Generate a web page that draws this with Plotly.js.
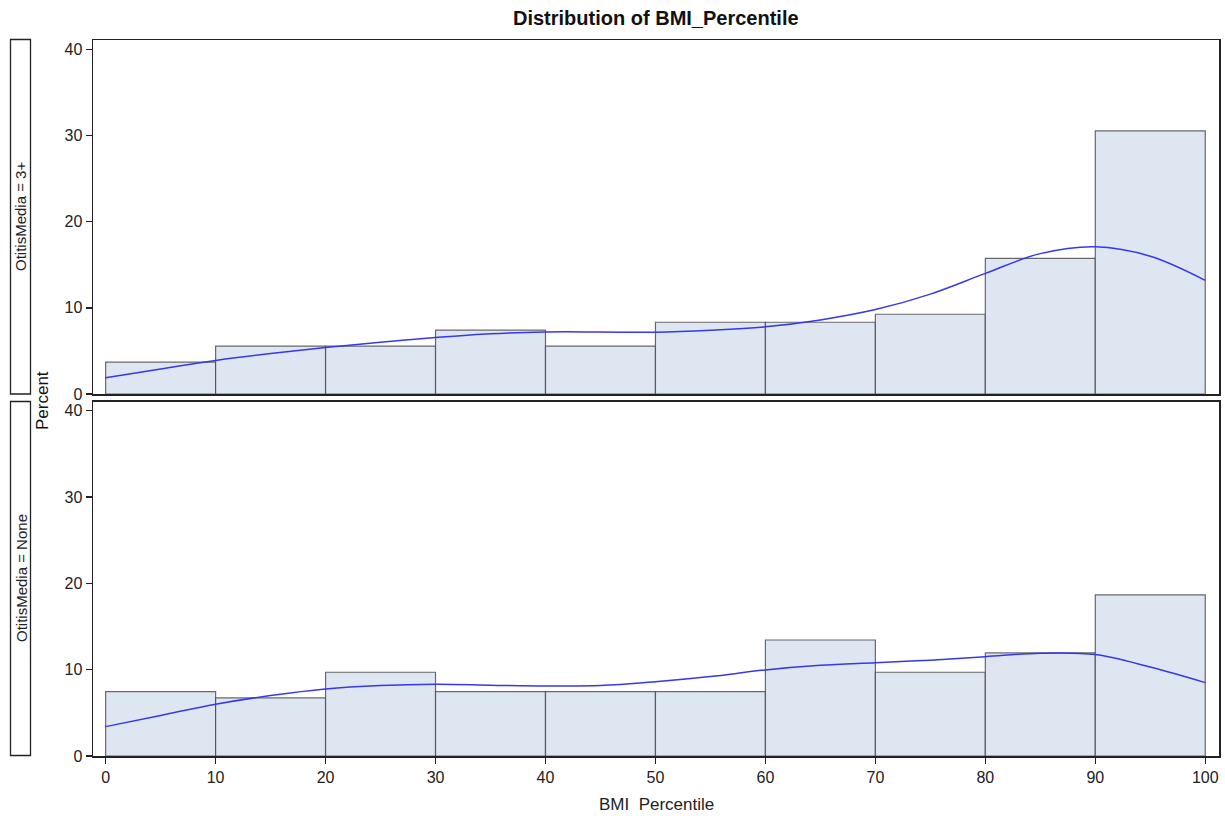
<!DOCTYPE html>
<html>
<head>
<meta charset="utf-8">
<script src="https://cdn.plot.ly/plotly-3.0.1.min.js"></script>
<style>html,body{margin:0;padding:0;background:#fff;}#chart{width:1225px;height:816px;}</style>
</head>
<body>
<div id="chart"></div>
<script>
// Histogram bins (BMI Percentile), 10-unit wide
var binMids = [5, 15, 25, 35, 45, 55, 65, 75, 85, 95];
// Percent per bin, OtitisMedia = 3+
var pctThreePlus = [3.70, 5.56, 5.56, 7.41, 5.56, 8.33, 8.33, 9.26, 15.74, 30.56];
// Percent per bin, OtitisMedia = None
var pctNone = [7.46, 6.72, 9.70, 7.46, 7.46, 7.46, 13.43, 9.70, 11.94, 18.66];
// Kernel density curves
var kdeX = [0, 5, 10, 15, 20, 25, 30, 35, 40, 45, 50, 55, 60, 65, 70, 75, 80, 85, 90, 95, 100];
var kdeThreePlus = [1.9, 2.9, 3.9, 4.7, 5.4, 6.0, 6.55, 7.0, 7.2, 7.2, 7.17, 7.4, 7.8, 8.6, 9.8, 11.6, 14.0, 16.3, 17.1, 16.0, 13.2];
var kdeNone = [3.4, 4.7, 6.0, 7.0, 7.76, 8.15, 8.3, 8.2, 8.1, 8.15, 8.6, 9.2, 9.97, 10.5, 10.8, 11.1, 11.5, 11.9, 11.75, 10.3, 8.5];
var xTicks = [0, 10, 20, 30, 40, 50, 60, 70, 80, 90, 100];
var yTicks = [0, 10, 20, 30, 40];
var rowLabels = ["OtitisMedia = 3+", "OtitisMedia = None"];

var W = 1225, H = 816;
function px(x){ return x / W; }
function py(y){ return 1 - y / H; }

var barFill = "rgb(222,230,242)";
var barLine = "rgba(70,70,70,0.8)";
var curveCol = "rgb(55,55,235)";
var FONT = "Liberation Sans, Arial, sans-serif";

var traces = [
  {type:"bar", x:binMids, y:pctThreePlus, width:10, xaxis:"x", yaxis:"y",
   marker:{color:barFill, line:{color:barLine, width:1.2}}, hoverinfo:"x+y", showlegend:false},
  {type:"scatter", mode:"lines", x:kdeX, y:kdeThreePlus, xaxis:"x", yaxis:"y",
   line:{color:curveCol, width:1.5, shape:"spline", smoothing:1}, showlegend:false},
  {type:"bar", x:binMids, y:pctNone, width:10, xaxis:"x2", yaxis:"y2",
   marker:{color:barFill, line:{color:barLine, width:1.2}}, hoverinfo:"x+y", showlegend:false},
  {type:"scatter", mode:"lines", x:kdeX, y:kdeNone, xaxis:"x2", yaxis:"y2",
   line:{color:curveCol, width:1.5, shape:"spline", smoothing:1}, showlegend:false}
];

var tickFont = {family:FONT, size:16, color:"#222"};
var frameCol = "#222";
var xDom = [px(93), px(1219)];
var xRange = [-1.15, 101.25];

var layout = {
  width: W, height: H,
  margin:{l:0, r:0, t:0, b:0},
  paper_bgcolor:"#fff", plot_bgcolor:"#fff",
  bargap:0,
  showlegend:false,
  xaxis:{domain:xDom, anchor:"y", range:xRange, showticklabels:false, ticks:"",
         showline:true, mirror:true, linecolor:frameCol, linewidth:1.5,
         showgrid:false, zeroline:false},
  yaxis:{domain:[py(394), py(40)], anchor:"x", range:[0, 41.1], tickvals:yTicks,
         ticks:"outside", ticklen:6, tickwidth:1.3, tickcolor:frameCol, tickfont:tickFont,
         showline:true, mirror:true, linecolor:frameCol, linewidth:1.5,
         showgrid:false, zeroline:false},
  xaxis2:{domain:xDom, anchor:"y2", range:xRange, tickvals:xTicks,
          ticks:"outside", ticklen:6, tickwidth:1.3, tickcolor:frameCol, tickfont:tickFont,
          showline:true, mirror:true, linecolor:frameCol, linewidth:1.5,
          showgrid:false, zeroline:false},
  yaxis2:{domain:[py(756), py(401.5)], anchor:"x2", range:[0, 41.05], tickvals:yTicks,
          ticks:"outside", ticklen:6, tickwidth:1.3, tickcolor:frameCol, tickfont:tickFont,
          showline:true, mirror:true, linecolor:frameCol, linewidth:1.5,
          showgrid:false, zeroline:false},
  shapes:[
    {type:"rect", xref:"paper", yref:"paper", x0:px(10.5), x1:px(30.5), y0:py(394), y1:py(39.5),
     line:{color:frameCol, width:1.3}, fillcolor:"rgba(0,0,0,0)"},
    {type:"rect", xref:"paper", yref:"paper", x0:px(10.5), x1:px(30.5), y0:py(755.5), y1:py(401.5),
     line:{color:frameCol, width:1.3}, fillcolor:"rgba(0,0,0,0)"}
  ],
  annotations:[
    {text:"<b>Distribution of BMI_Percentile</b>", xref:"paper", yref:"paper", x:px(656), y:py(18),
     xanchor:"center", yanchor:"middle", showarrow:false,
     font:{family:FONT, size:20, color:"#111"}},
    {text:rowLabels[0], xref:"paper", yref:"paper", x:px(21), y:py(217), textangle:-90,
     xanchor:"center", yanchor:"middle", showarrow:false,
     font:{family:FONT, size:15, color:"#222"}},
    {text:rowLabels[1], xref:"paper", yref:"paper", x:px(21), y:py(578), textangle:-90,
     xanchor:"center", yanchor:"middle", showarrow:false,
     font:{family:FONT, size:15, color:"#222"}},
    {text:"Percent", xref:"paper", yref:"paper", x:px(42), y:py(401), textangle:-90,
     xanchor:"center", yanchor:"middle", showarrow:false,
     font:{family:FONT, size:17, color:"#111"}},
    {text:"BMI&nbsp;&nbsp;Percentile", xref:"paper", yref:"paper", x:px(656), y:py(804),
     xanchor:"center", yanchor:"middle", showarrow:false,
     font:{family:FONT, size:17, color:"#222"}}
  ]
};

Plotly.newPlot("chart", traces, layout, {displayModeBar:false, staticPlot:true});
</script>
</body>
</html>
